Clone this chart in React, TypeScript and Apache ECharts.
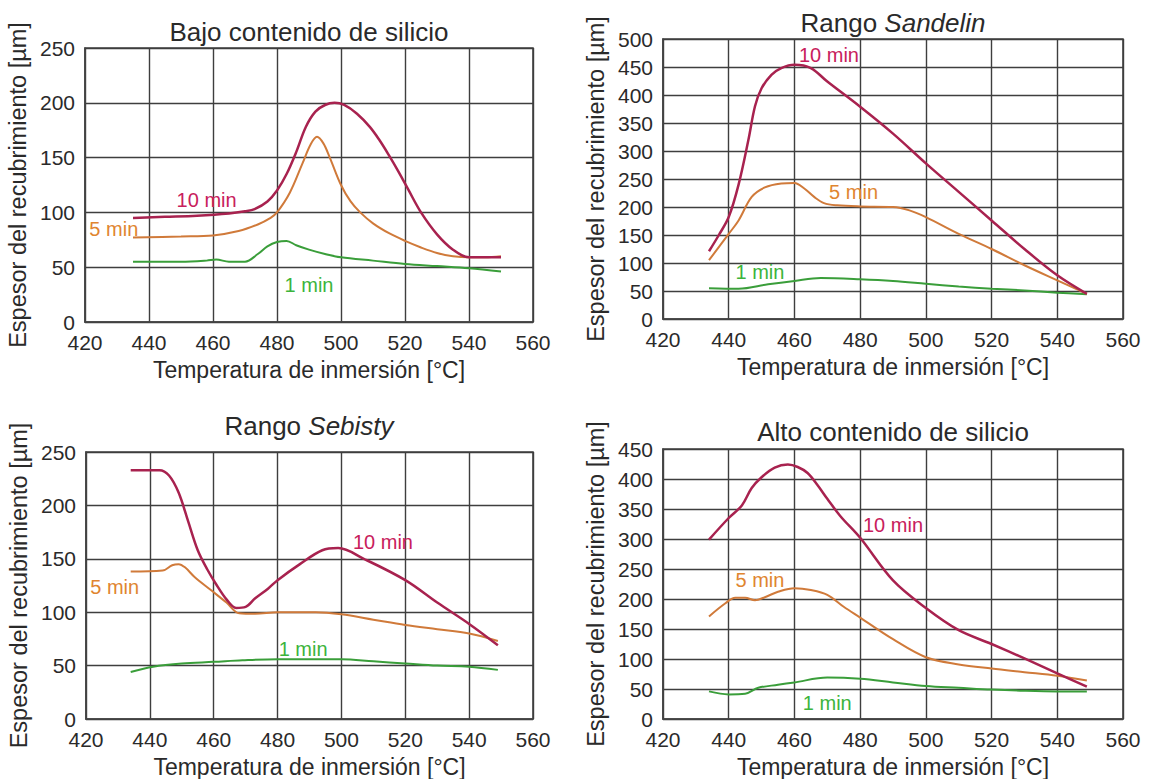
import React, { useEffect, useRef } from "react";
import * as echarts from "echarts";

// ---------- data ----------
const xMin = 420;
const xMax = 560;
const xStep = 20;
const yStep = 50;
const yMaxes = [250, 500, 250, 450];

const panelTitles = [
  "Bajo contenido de silicio",
  "Rango {i|Sandelin}",
  "Rango {i|Sebisty}",
  "Alto contenido de silicio",
];
const seriesNames = ["10 min", "5 min", "1 min"];

// Bajo contenido de silicio
const bajo10 = [[435, 95], [445, 96], [455, 97], [465, 99], [470, 101], [473, 103], [477, 110], [480, 120], [483, 135], [486, 155], [489, 178], [492, 192], [495, 198], [498, 200], [501, 198], [505, 190], [509, 178], [512, 166], [515, 152], [518, 137], [521, 121], [525, 100], [530, 80], [535, 66], [540, 59], [545, 59], [550, 59]];
const bajo5 = [[435, 77], [450, 78], [460, 79], [468, 83], [474, 89], [478, 95], [480, 100], [484, 118], [488, 145], [490.5, 162], [492.5, 169], [494.5, 163], [496.5, 150], [500, 125], [503, 110], [506, 100], [510, 90], [515, 81], [520, 74], [525, 68], [530, 63], [535, 60], [540, 59], [545, 59], [550, 60]];
const bajo1 = [[435, 55], [450, 55], [458, 56], [461, 57], [465, 55], [470, 55], [474, 62], [477, 69], [480, 73], [483, 74], [486, 70], [490, 66], [495, 62], [500, 59], [510, 56], [520, 53], [530, 51], [540, 49], [550, 46]];

// Rango Sandelin
const sand10 = [[434, 121], [437, 150], [440, 182], [443, 240], [446, 320], [448, 380], [450, 412], [453, 436], [456, 448], [460, 454], [465, 448], [470, 424], [480, 379], [490, 331], [500, 278], [510, 227], [520, 176], [530, 125], [540, 78], [549, 45]];
const sand5 = [[434, 105], [440, 152], [443, 176], [447, 218], [451, 235], [456, 242], [460, 243], [463, 233], [466, 218], [469, 207], [473, 203], [480, 201], [490, 200], [495, 194], [500, 182], [510, 152], [520, 125], [530, 96], [540, 69], [549, 45]];
const sand1 = [[434, 55], [443, 54], [452, 62], [460, 68], [468, 73], [480, 71], [490, 68], [500, 63], [510, 58], [520, 54], [530, 51], [540, 47], [549, 44]];

// Rango Sebisty
const seb10 = [[434, 233], [443, 233], [446, 228], [449, 212], [452, 185], [455, 158], [458, 140], [461, 125], [464, 112], [467, 104], [470, 105], [473, 113], [477, 122], [480, 130], [487, 145], [494, 158], [499, 160], [507, 150], [520, 130], [530, 109], [540, 89], [549, 69]];
const seb5 = [[434, 138], [444, 139], [447, 144], [449, 145], [451, 142], [454, 133], [459, 121], [464, 109], [468, 99], [473, 98.5], [480, 100], [492, 100], [500, 98], [510, 93], [520, 88], [530, 84], [540, 80], [549, 73]];
const seb1 = [[434, 44], [441, 49], [450, 52], [460, 53.5], [469, 55], [480, 56], [500, 56], [510, 54], [520, 52], [530, 50], [540, 49], [549, 46]];

// Alto contenido de silicio
const alto10 = [[434, 299], [440, 335], [444, 356], [447, 385], [450, 403], [454, 419], [458, 424], [461, 420], [464, 410], [467, 390], [470, 367], [474, 338], [480, 302], [490, 231], [500, 185], [510, 148], [520, 125], [530, 101], [540, 76], [549, 54]];
const alto5 = [[434, 171], [439, 193], [442, 202], [445, 202], [448, 198], [451, 203], [455, 212], [460, 218], [465, 215], [470, 207], [475, 187], [480, 169], [490, 133], [500, 103], [510, 91], [520, 84], [530, 78], [540, 72], [549, 64]];
const alto1 = [[434, 46], [440, 41], [445, 42], [449, 52], [455, 57], [460, 61], [470, 69], [480, 67], [490, 61], [500, 55], [510, 52], [520, 49], [530, 47], [540, 46], [549, 46]];

const panelData = [
  [bajo10, bajo5, bajo1],
  [sand10, sand5, sand1],
  [seb10, seb5, seb1],
  [alto10, alto5, alto1],
];

// ---------- layout / style ----------
const grids = [
  { left: 85, top: 48, width: 448, height: 274 },
  { left: 663, top: 39, width: 460, height: 280 },
  { left: 86, top: 452, width: 447, height: 274 },
  { left: 663, top: 449, width: 460, height: 277 },
];
const titlePos = [
  [309, 32],
  [893, 23],
  [309, 426],
  [893, 432],
];
// label anchor positions in data coordinates [panel][series]
const labelPos = [
  [[458, 111], [429, 85], [490, 34]],
  [[470.5, 472], [478, 227], [449.5, 84]],
  [[513, 166], [429, 124], [488, 66]],
  [[490, 324], [449.5, 232], [470, 27]],
];
const lineColors = ["#a8224f", "#d07a3a", "#3a9e3a"];
const labelColors = ["#c8205c", "#e08530", "#3cb43c"];
const lineWidths = [2.5, 2, 2];
const textColor = "#2a2a2a";
const gridColor = "#3e3e3e";
const font = "'Liberation Sans', Arial, sans-serif";

export default function App() {
  const ref = useRef<HTMLDivElement>(null);
  useEffect(() => {
    const chart = echarts.init(ref.current!, null, { renderer: "svg" });

    const title = panelTitles.map((t, i) => ({
      text: t,
      left: titlePos[i][0],
      top: titlePos[i][1],
      textAlign: "center",
      textVerticalAlign: "middle",
      padding: 0,
      textStyle: {
        fontFamily: font,
        fontSize: 26,
        fontWeight: "normal",
        color: textColor,
        rich: { i: { fontFamily: font, fontSize: 26, fontStyle: "italic", color: textColor } },
      },
    }));

    const grid = grids.map((g) => ({
      ...g,
      show: true,
      borderColor: "#444",
      borderWidth: 1.6,
      backgroundColor: "#fff",
    }));

    const xAxis = grids.map((_, i) => ({
      type: "value",
      gridIndex: i,
      min: xMin,
      max: xMax,
      interval: xStep,
      name: "Temperatura de inmersión [°C]",
      nameLocation: "middle",
      nameGap: 36,
      nameTextStyle: { fontFamily: font, fontSize: 23, color: textColor },
      axisLine: { show: true, lineStyle: { color: "#444", width: 1.6 } },
      axisTick: { show: false },
      axisLabel: { fontFamily: font, fontSize: 21, color: textColor, margin: 10 },
      splitLine: { show: true, lineStyle: { color: gridColor, width: 1.4 } },
    }));

    const yAxis = grids.map((_, i) => ({
      type: "value",
      gridIndex: i,
      min: 0,
      max: yMaxes[i],
      interval: yStep,
      name: "Espesor del recubrimiento [µm]",
      nameLocation: "middle",
      nameGap: 55,
      nameTextStyle: { fontFamily: font, fontSize: 23.5, color: textColor },
      axisLine: { show: true, lineStyle: { color: "#444", width: 1.6 } },
      axisTick: { show: false },
      axisLabel: { fontFamily: font, fontSize: 21, color: textColor, margin: 10 },
      splitLine: { show: true, lineStyle: { color: gridColor, width: 1.4 } },
    }));

    const series: any[] = [];
    panelData.forEach((arrs, p) => {
      arrs.forEach((d, s) => {
        series.push({
          type: "line",
          name: seriesNames[s],
          xAxisIndex: p,
          yAxisIndex: p,
          data: d,
          showSymbol: false,
          symbol: "none",
          smooth: 0.35,
          lineStyle: { color: lineColors[s], width: lineWidths[s] },
          itemStyle: { color: lineColors[s] },
          z: 10 - s,
          markPoint: {
            silent: true,
            symbol: "circle",
            symbolSize: 1,
            itemStyle: { color: "rgba(0,0,0,0)" },
            label: {
              show: true,
              position: "inside",
              formatter: seriesNames[s],
              fontFamily: font,
              fontSize: 20,
              color: labelColors[s],
            },
            data: [{ coord: labelPos[p][s] }],
          },
        });
      });
    });

    chart.setOption({
      animation: false,
      backgroundColor: "#fff",
      title,
      grid,
      xAxis,
      yAxis,
      series,
    });
    return () => chart.dispose();
  }, []);
  return (
    <div
      ref={ref}
      style={{ position: "fixed", left: 0, top: 0, width: 1153, height: 779, background: "#fff" }}
    />
  );
}
